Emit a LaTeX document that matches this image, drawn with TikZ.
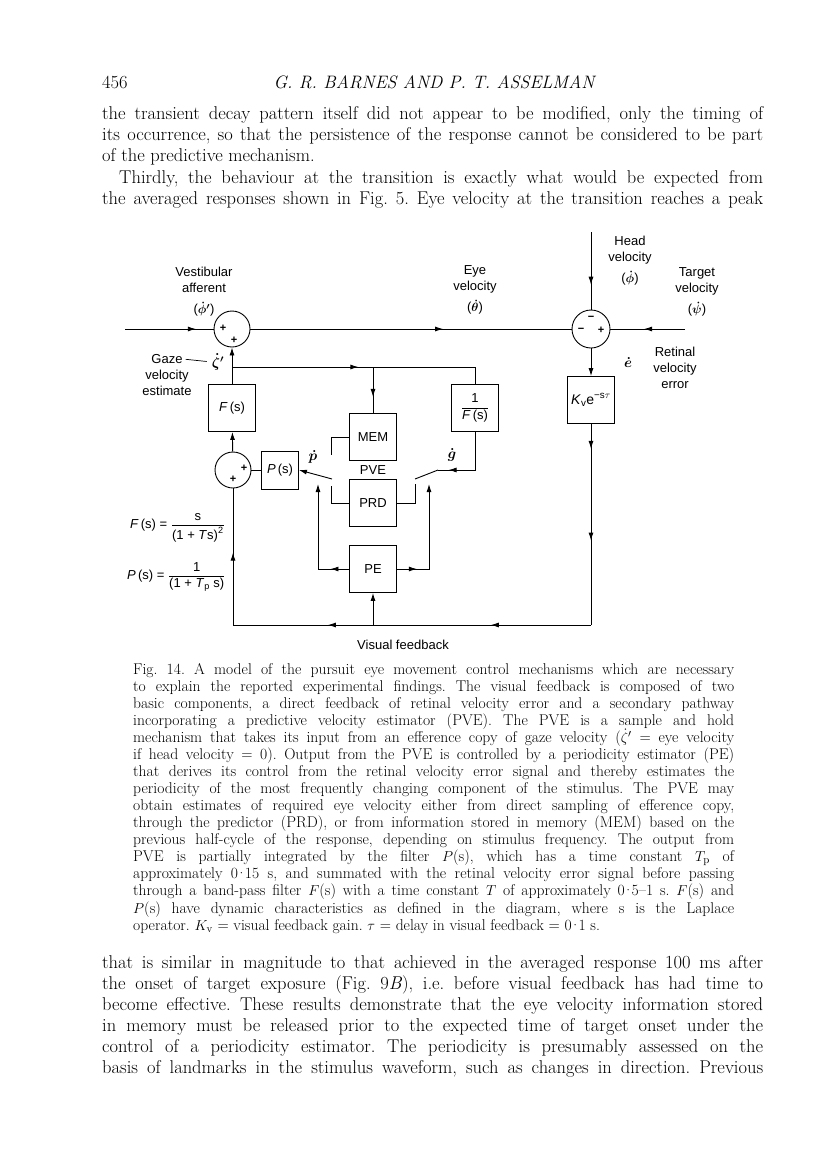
\documentclass[tikz,border=0pt]{standalone}
\usepackage{amsmath}
\usepackage{fontspec}
\setsansfont{Liberation Sans}
\usepackage{tikz}
\usetikzlibrary{arrows.meta,decorations.markings,calc}

\newcommand{\Fs}{\textit{F}\,(s)}
\newcommand{\fullline}[1]{\makebox[661pt][s]{#1}}
\newcommand{\capline}[1]{\makebox[601pt][s]{#1}}
\newcommand{\cdotnum}[2]{#1\kern-2.2pt·\kern-2.2pt#2}

\tikzset{
  blk/.style={draw, line width=0.9pt, minimum width=47pt, minimum height=47pt, inner sep=0pt,
    font=\sffamily\fontsize{13}{15}\selectfont},
  sumjn/.style={draw, circle, line width=0.9pt, minimum size=36pt, inner sep=0pt},
  sgn/.style={inner sep=0pt, font=\sffamily\bfseries\fontsize{11}{11}\selectfont},
  lbl/.style={inner sep=0pt, align=center, font=\sffamily\fontsize{13}{16}\selectfont},
  mlbl/.style={inner sep=0pt, font=\fontsize{14}{16}\selectfont\boldmath},
  sig/.style={line width=0.9pt},
  tip/.style={-{Latex[length=8pt,width=5pt]}},
  midtip/.style={postaction={decorate}, decoration={markings,
    mark=at position #1 with {\arrow{Latex[length=8pt,width=5pt]}}}},
  twotips/.style 2 args={postaction={decorate}, decoration={markings,
    mark=at position #1 with {\arrow{Latex[length=8pt,width=5pt]}},
    mark=at position #2 with {\arrow{Latex[length=8pt,width=5pt]}}}},
  bodytext/.style={anchor=base west, inner sep=0pt, font=\fontsize{18.5}{21}\selectfont\frenchspacing},
  captext/.style={anchor=base west, inner sep=0pt, font=\fontsize{15.6}{17}\selectfont\frenchspacing},
}

\begin{document}
\begin{tikzpicture}[x=1pt,y=-1pt]
  \useasboundingbox (0,0) rectangle (816,1167);

  % running head and text above the figure
  \node[bodytext] (pgno) at (102,88) {456};
  \node[anchor=base, inner sep=0pt, font=\fontsize{18}{20}\selectfont\itshape] (runhead) at (434,88)
    {G. R. BARNES AND P. T. ASSELMAN};
  \node[bodytext] (top1) at (102,119) {\fullline{the transient decay pattern itself did not appear to be modified, only the timing of}};
  \node[bodytext] (top2) at (102,140.4) {\fullline{its occurrence, so that the persistence of the response cannot be considered to be part}};
  \node[bodytext] (top3) at (102,161.8) {of the predictive mechanism.};
  \node[bodytext] (top4) at (119,183.2) {\makebox[644pt][s]{Thirdly, the behaviour at the transition is exactly what would be expected from}};
  \node[bodytext] (top5) at (102,204.6) {\fullline{the averaged responses shown in Fig. 5. Eye velocity at the transition reaches a peak}};

  % summing junctions
  \node[sumjn] (s1) at (232,329) {};
  \node[sumjn, minimum size=38pt] (s2) at (591,329) {};
  \node[sumjn] (s3) at (233,470) {};
  \node[sgn] (s1a) at (223,328) {+};
  \node[sgn] (s1b) at (234,340) {+};
  \node[sgn] (s2a) at (591,318) {−};
  \node[sgn] (s2b) at (581,330) {−};
  \node[sgn] (s2c) at (601,330) {+};
  \node[sgn] (s3a) at (244,468) {+};
  \node[sgn] (s3b) at (233,479) {+};

  % blocks
  \node[blk] (Fs) at (232,408) {\Fs};
  \node[blk] (iFs) at (475,408) {$\dfrac{\text{1}}{\text{\Fs}}$};
  \node[blk, font=\sffamily\fontsize{14}{15}\selectfont] (Kv) at (591,400) {\textit{K}\textsubscript{v}e\textsuperscript{−s$\tau$}};
  \node[blk] (mem) at (373,437) {MEM};
  \node[blk] (prd) at (373,503) {PRD};
  \node[blk] (pe) at (373,569) {PE};
  \node[blk, minimum width=37pt, minimum height=38pt] (Ps) at (280,470) {\textit{P}\,(s)};

  % free ends and corners
  \coordinate (vin) at (125,329);
  \coordinate (tin) at (685,329);
  \coordinate (hin) at (591,232);
  \coordinate (br) at (232,367);
  \coordinate (brm) at (373,367);
  \coordinate (bri) at (475,367);
  \coordinate (fbk) at (591,625);
  \coordinate (fbl) at (233,625);
  \coordinate (fbm) at (373,625);
  \coordinate (memc) at (331,455);
  \coordinate (prdc) at (331,486);
  \coordinate (swl) at (332,479);
  \coordinate (prdrc) at (415,484);
  \coordinate (swr) at (415,479);
  \coordinate (swrt) at (438,470);
  \coordinate (peL) at (318,484);
  \coordinate (peR) at (429,484);

  % forward path
  \draw[sig, midtip=0.8] (vin) -- (s1);
  \draw[sig, midtip=0.6] (s1) -- (s2);
  \draw[sig, midtip=0.55] (tin) -- (s2);
  \draw[sig, midtip=0.68] (hin) -- (s2);
  \draw[sig, tip] (s2) -- (Kv);
  \draw[sig, tip] (Fs) -- (s1);
  \draw[sig, tip] (s3) -- (Fs);
  \draw[sig] (s3) -- (Ps);

  % efference copy branch
  \draw[sig, midtip=0.52] (br) -- (bri);
  \draw[sig] (bri) -- (iFs);
  \draw[sig, midtip=0.65] (brm) -- (mem);

  % visual feedback
  \draw[sig, twotips={0.124}{0.58}] (Kv) -- (fbk);
  \draw[sig, twotips={0.28}{0.735}] (fbk) -- (fbl);
  \draw[sig, midtip=0.53] (fbl) -- (s3);
  \draw[sig, tip] (fbm) -- (pe);

  % PVE switches
  \draw[sig] (mem.west) -| (memc);
  \draw[sig] (prd.west) -| (prdc);
  \draw[sig, tip] (swl) -- (Ps.east);
  \draw[sig] (prd.east) -| (prdrc);
  \draw[sig, midtip=0.86] (iFs) |- (swrt);
  \draw[sig] (swrt) -- (swr);
  \draw[sig, midtip=0.16, tip] (pe.west) -| (peL);
  \draw[sig, midtip=0.17, tip] (pe.east) -| (peR);

  % signal labels
  \node[lbl] (vest) at (204,292) {Vestibular\\afferent\\[5pt]{\boldmath($\dot{\phi}'$)}};
  \node[lbl] (eyev) at (475,290) {Eye\\velocity\\[5pt]{\boldmath($\dot{\theta}$)}};
  \node[lbl] (headv) at (630,261) {Head\\velocity\\[5pt]{\boldmath($\dot{\phi}$)}};
  \node[lbl] (targv) at (697,292) {Target\\velocity\\[5pt]{\boldmath($\dot{\psi}$)}};
  \node[lbl] (retv) at (675,368) {Retinal\\velocity\\error};
  \node[mlbl] (edot) at (628,362) {$\dot{e}$};
  \node[lbl] (gaze) at (167,359) {Gaze};
  \node[mlbl] (zeta) at (218,362) {$\dot{\zeta}'$};
  \node[lbl] (gazeest) at (167,383) {velocity\\estimate};
  \draw[line width=0.7pt, shorten <=3pt, shorten >=5pt] (gaze.east) -- (zeta.west);
  \node[lbl] (pve) at (373,470) {PVE};
  \node[mlbl] (pdot) at (313,457) {$\dot{p}$};
  \node[mlbl] (gdot) at (452,455) {$\dot{g}$};
  \node[lbl, anchor=west] (fdef) at (130,528)
    {\Fs\ = $\dfrac{\text{s}}{\text{(1 + \textit{T}s)}^{\text{2}}}$};
  \node[lbl, anchor=west] (pdef) at (127,577)
    {\textit{P}\,(s) = $\dfrac{\text{1}}{\text{(1 + \textit{T}\textsubscript{p} s)}}$};
  \node[lbl] (visfb) at (403,645) {Visual feedback};

  % caption
  \node[captext] (cap1) at (133,674) {\capline{Fig. 14. A model of the pursuit eye movement control mechanisms which are necessary}};
  \node[captext] (cap2) at (133,691.1) {\capline{to explain the reported experimental findings. The visual feedback is composed of two}};
  \node[captext] (cap3) at (133,708.1) {\capline{basic components, a direct feedback of retinal velocity error and a secondary pathway}};
  \node[captext] (cap4) at (133,725.2) {\capline{incorporating a predictive velocity estimator (PVE). The PVE is a sample and hold}};
  \node[captext] (cap5) at (133,742.3) {\capline{mechanism that takes its input from an efference copy of gaze velocity ($\dot{\zeta}'$ = eye velocity}};
  \node[captext] (cap6) at (133,759.4) {\capline{if head velocity = 0). Output from the PVE is controlled by a periodicity estimator (PE)}};
  \node[captext] (cap7) at (133,776.4) {\capline{that derives its control from the retinal velocity error signal and thereby estimates the}};
  \node[captext] (cap8) at (133,793.5) {\capline{periodicity of the most frequently changing component of the stimulus. The PVE may}};
  \node[captext] (cap9) at (133,810.6) {\capline{obtain estimates of required eye velocity either from direct sampling of efference copy,}};
  \node[captext] (cap10) at (133,827.6) {\capline{through the predictor (PRD), or from information stored in memory (MEM) based on the}};
  \node[captext] (cap11) at (133,844.7) {\capline{previous half-cycle of the response, depending on stimulus frequency. The output from}};
  \node[captext] (cap12) at (133,861.8) {\capline{PVE is partially integrated by the filter $P$(s), which has a time constant $T_{\mathrm{p}}$ of}};
  \node[captext] (cap13) at (133,878.8) {\capline{approximately \cdotnum{0}{15} s, and summated with the retinal velocity error signal before passing}};
  \node[captext] (cap14) at (133,895.9) {\capline{through a band-pass filter $F$(s) with a time constant $T$ of approximately \cdotnum{0}{5}–1 s. $F$(s) and}};
  \node[captext] (cap15) at (133,913) {\capline{$P$(s) have dynamic characteristics as defined in the diagram, where s is the Laplace}};
  \node[captext] (cap16) at (133,930.1) {operator. $K_{\mathrm{v}}$ = visual feedback gain. $\tau$ = delay in visual feedback = \cdotnum{0}{1} s.};

  % text below the figure
  \node[bodytext] (bot1) at (102,968) {\fullline{that is similar in magnitude to that achieved in the averaged response 100 ms after}};
  \node[bodytext] (bot2) at (102,989) {\fullline{the onset of target exposure (Fig. 9\textit{B}), i.e. before visual feedback has had time to}};
  \node[bodytext] (bot3) at (102,1010) {\fullline{become effective. These results demonstrate that the eye velocity information stored}};
  \node[bodytext] (bot4) at (102,1031) {\fullline{in memory must be released prior to the expected time of target onset under the}};
  \node[bodytext] (bot5) at (102,1052) {\fullline{control of a periodicity estimator. The periodicity is presumably assessed on the}};
  \node[bodytext] (bot6) at (102,1073) {\fullline{basis of landmarks in the stimulus waveform, such as changes in direction. Previous}};
\end{tikzpicture}
\end{document}
